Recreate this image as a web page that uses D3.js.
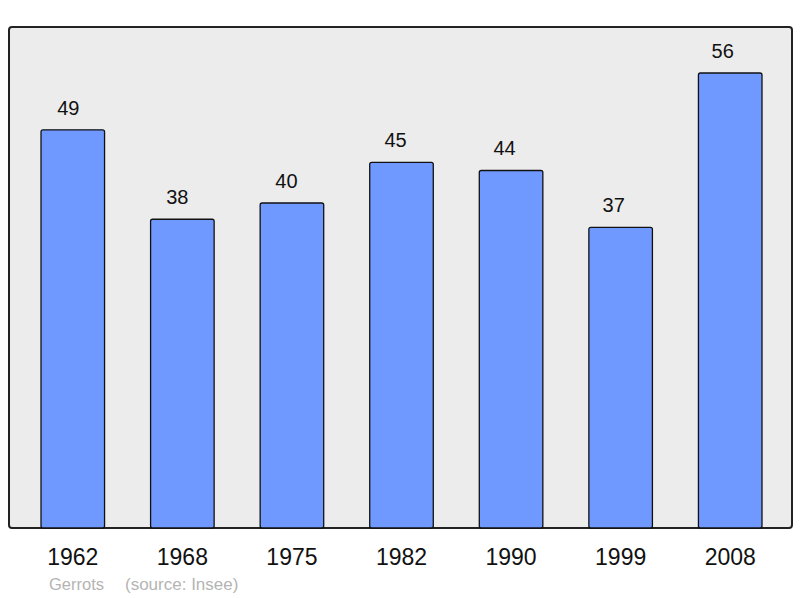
<!DOCTYPE html>
<html>
<head>
<meta charset="utf-8">
<script src="https://cdn.jsdelivr.net/npm/d3@7"></script>
<style>
  body { margin: 0; background: #fff; }
  text { font-family: "Liberation Sans", Arial, sans-serif; }
</style>
</head>
<body>
<div id="chart"></div>
<script>
// population data
var years = ["1962", "1968", "1975", "1982", "1990", "1999", "2008"];
var population = [49, 38, 40, 45, 44, 37, 56];
var commune = "Gerrots";
var source = "(source: Insee)";

var svgWidth = 800;
var svgHeight = 598;

// panel box
var panel = { left: 9, top: 27, right: 792, bottom: 528 };

var svg = d3.select("#chart")
  .append("svg")
  .attr("width", svgWidth)
  .attr("height", svgHeight);

svg.append("rect")
  .attr("x", panel.left)
  .attr("y", panel.top)
  .attr("width", panel.right - panel.left)
  .attr("height", panel.bottom - panel.top)
  .attr("rx", 3)
  .attr("fill", "#ececec")
  .attr("stroke", "#222")
  .attr("stroke-width", 2);

var xScale = d3.scaleBand()
  .domain(years)
  .range([18, 785])
  .paddingInner(0.42)
  .paddingOuter(0.21);

var yScale = d3.scaleLinear()
  .domain([0, 61.66])
  .range([panel.bottom, panel.top]);

// bars
svg.selectAll(".bar")
  .data(population)
  .enter()
  .append("rect")
  .attr("class", "bar")
  .attr("x", (d, i) => xScale(years[i]))
  .attr("y", d => yScale(d))
  .attr("width", xScale.bandwidth())
  .attr("height", d => yScale(0) - yScale(d))
  .attr("rx", 2)
  .attr("fill", "#7099ff")
  .attr("stroke", "#111")
  .attr("stroke-width", 1.3);

// value labels (sit a little left of the bar centre, as in the original)
svg.selectAll(".val")
  .data(population)
  .enter()
  .append("text")
  .attr("class", "val")
  .attr("x", (d, i) => xScale(years[i]) + xScale.bandwidth() / 2 - 4.5 - i * 0.5)
  .attr("y", d => yScale(d) - 15)
  .attr("text-anchor", "middle")
  .attr("font-size", "20px")
  .attr("fill", "#111")
  .text(d => d);

// x axis with year labels
var xAxis = d3.axisBottom(xScale).tickSize(0).tickPadding(0);
var xg = svg.append("g")
  .attr("transform", `translate(0, ${panel.bottom})`)
  .call(xAxis);
xg.select(".domain").remove();
xg.selectAll("text")
  .attr("dy", null)
  .attr("y", 37)
  .attr("font-size", "23px")
  .attr("font-family", "Liberation Sans, Arial, sans-serif")
  .attr("fill", "#111");

// footer
svg.append("text")
  .attr("x", 49)
  .attr("y", 590)
  .attr("font-size", "16.5px")
  .attr("fill", "#b4b4b4")
  .text(commune);

svg.append("text")
  .attr("x", 125)
  .attr("y", 590)
  .attr("font-size", "17px")
  .attr("fill", "#b4b4b4")
  .text(source);
</script>
</body>
</html>
